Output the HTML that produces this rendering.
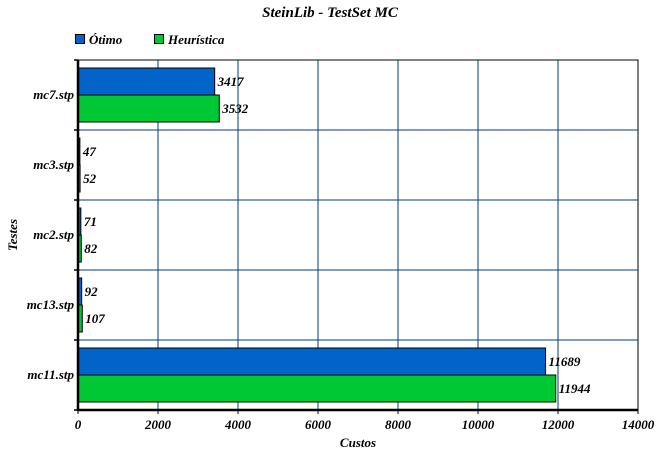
<!DOCTYPE html>
<html><head><meta charset="utf-8"><style>
body{margin:0;background:#fff;}
svg text{font-family:"Liberation Serif",serif;font-style:italic;font-weight:bold;}
</style></head><body>
<svg id="c" width="657" height="459">
<text x="330" y="17" text-anchor="middle" font-size="15">SteinLib - TestSet MC</text>
<g>
<rect x="75.5" y="34.5" width="9" height="9" fill="#0064c8" stroke="#000"/>
<text x="89" y="44" font-size="13">Ótimo</text>
<rect x="154.5" y="34.5" width="9" height="9" fill="#00c832" stroke="#000"/>
<text x="168" y="44" font-size="13">Heurística</text>
</g>
<g id="plot"></g>
<text x="358" y="447" text-anchor="middle" font-size="13">Custos</text>
<text transform="translate(17,235) rotate(-90)" text-anchor="middle" font-size="13">Testes</text>
</svg>
<script>
const categories=["mc7.stp","mc3.stp","mc2.stp","mc13.stp","mc11.stp"];
const otimo=[3417,47,71,92,11689];
const heuristica=[3532,52,82,107,11944];
const ticks=[0,2000,4000,6000,8000,10000,12000,14000];
const NS="http://www.w3.org/2000/svg";
const X0=78,X1=638,Y0=60,Y1=410,MAX=14000;
const xs=v=>X0+v/MAX*(X1-X0);
const rowH=(Y1-Y0)/categories.length;
const g=document.getElementById('plot');
function mk(t,a){const e=document.createElementNS(NS,t);for(const k in a)e.setAttribute(k,a[k]);g.appendChild(e);return e;}
let e=mk('rect',{x:X0,y:Y0,width:X1-X0,height:Y1-Y0,fill:'none',stroke:'#000','stroke-width':1});


ticks.forEach(t=>{
 if(t>0&&t<MAX){const l=mk('line',{x1:xs(t),x2:xs(t),y1:Y0,y2:Y1,stroke:'#003c78','stroke-width':1});
 
 }
 const tk=mk('line',{x1:xs(t),x2:xs(t),y1:Y1,y2:Y1+4,stroke:'#000'});
 
 
 const tx=mk('text',{x:xs(t),y:Y1+19,'text-anchor':'middle','font-size':13});tx.textContent=t;
 
 
});
for(let i=0;i<=categories.length;i++){
 const y=Y0+i*rowH;
 if(i>0&&i<categories.length){const l=mk('line',{x1:X0,x2:X1,y1:y,y2:y,stroke:'#003c78'});
 
 }
 const tk=mk('line',{x1:X0-4,x2:X0,y1:y,y2:y,stroke:'#000','stroke-width':1.5});
 
 
}
categories.forEach((c,i)=>{
 const top=Y0+i*rowH;
 const lb=mk('text',{x:X0-4,y:top+rowH/2+4,'text-anchor':'end','font-size':13});lb.textContent=c;
 
 
 [[otimo,'#0064c8',8,'bar-otimo'],[heuristica,'#00c832',35,'bar-heuristica']].forEach(([arr,col,off,nm])=>{
  const v=arr[i];
  const r=mk('rect',{x:X0,y:top+off,width:xs(v)-X0,height:27,fill:col,stroke:'#000','stroke-width':1});
  
  
  const t=mk('text',{x:xs(v)+3,y:top+off+18,'font-size':13});t.textContent=v;
  
  
 });
});
const ax=mk('line',{x1:X0,x2:X0,y1:Y0,y2:Y1+1,stroke:'#000','stroke-width':2.5});


const bx=mk('line',{x1:X0-1,x2:X1,y1:Y1,y2:Y1,stroke:'#000','stroke-width':2.5});


</script>
</body></html>
